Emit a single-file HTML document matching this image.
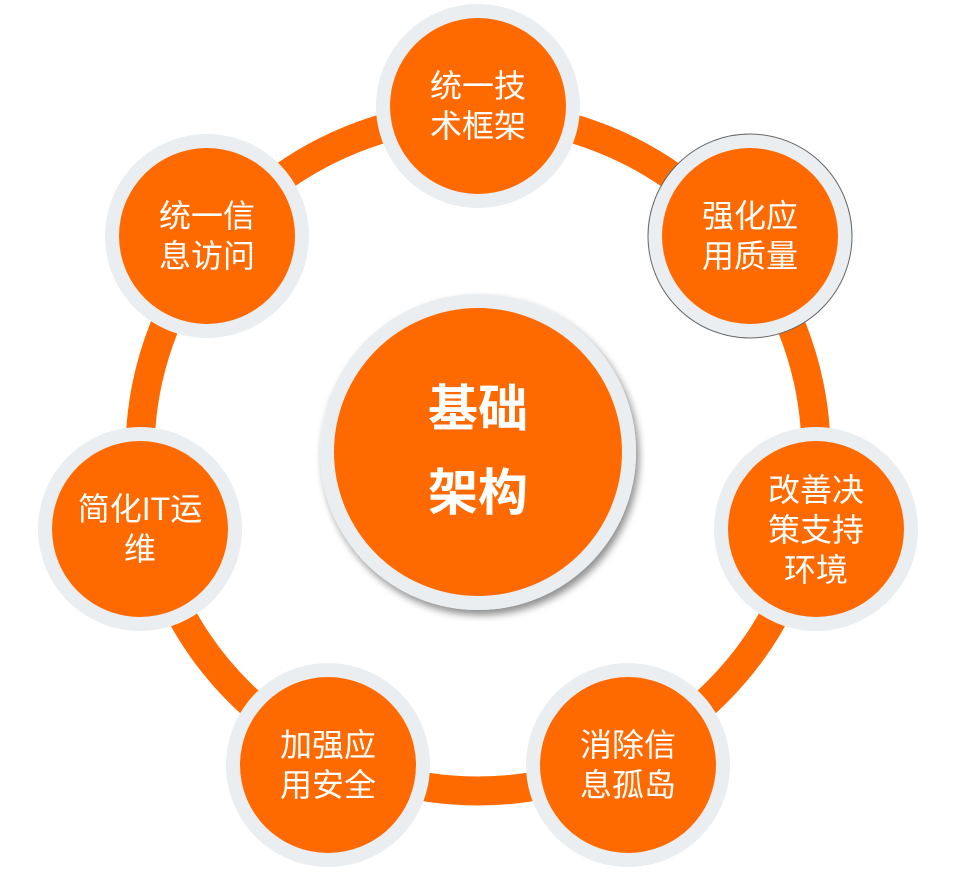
<!DOCTYPE html>
<html><head><meta charset="utf-8"><style>
body{margin:0;background:#fff;}
svg text{font-family:"Liberation Sans","Noto Sans CJK SC",sans-serif;fill:#fff;}
</style></head><body>
<svg width="954" height="868" viewBox="0 0 954 868" xmlns="http://www.w3.org/2000/svg">
<defs>
<filter id="sh" x="-20%" y="-20%" width="140%" height="140%">
<feGaussianBlur in="SourceAlpha" stdDeviation="4"/>
<feOffset dx="3" dy="5"/>
<feComponentTransfer><feFuncA type="linear" slope="0.45"/></feComponentTransfer>
<feMerge><feMergeNode/><feMergeNode in="SourceGraphic"/></feMerge>
</filter>
</defs>
<circle cx="478" cy="453" r="338" fill="none" stroke="#ff6a00" stroke-width="29"/>
<g>
<circle cx="478" cy="106" r="102" fill="#eaeef1"/><circle cx="478" cy="106" r="88" fill="#ff6a00"/>
<circle cx="750" cy="236" r="102" fill="#eaeef1" stroke="#666" stroke-width="1"/><circle cx="750" cy="236" r="88" fill="#ff6a00"/>
<circle cx="816" cy="529" r="102" fill="#eaeef1"/><circle cx="816" cy="529" r="88" fill="#ff6a00"/>
<circle cx="628" cy="765" r="102" fill="#eaeef1"/><circle cx="628" cy="765" r="88" fill="#ff6a00"/>
<circle cx="328" cy="765" r="102" fill="#eaeef1"/><circle cx="328" cy="765" r="88" fill="#ff6a00"/>
<circle cx="140" cy="529" r="102" fill="#eaeef1"/><circle cx="140" cy="529" r="88" fill="#ff6a00"/>
<circle cx="207" cy="236" r="102" fill="#eaeef1"/><circle cx="207" cy="236" r="88" fill="#ff6a00"/>
</g>
<g filter="url(#sh)"><circle cx="478" cy="452" r="158" fill="#eaeef1"/></g>
<circle cx="478" cy="452" r="144" fill="#ff6a00"/>
<g font-size="32" text-anchor="middle">
<text x="478" y="97">统一技</text><text x="478" y="137">术框架</text>
<text x="750" y="227">强化应</text><text x="750" y="267">用质量</text>
<text x="816" y="501">改善决</text><text x="816" y="541">策支持</text><text x="816" y="581">环境</text>
<text x="628" y="756">消除信</text><text x="628" y="796">息孤岛</text>
<text x="328" y="756">加强应</text><text x="328" y="796">用安全</text>
<text x="140" y="520">简化IT运</text><text x="140" y="560">维</text>
<text x="207" y="227">统一信</text><text x="207" y="267">息访问</text>
</g>
<g font-size="50" font-weight="bold" text-anchor="middle">
<text x="478" y="426">基础</text><text x="478" y="510">架构</text>
</g>
</svg>
</body></html>
